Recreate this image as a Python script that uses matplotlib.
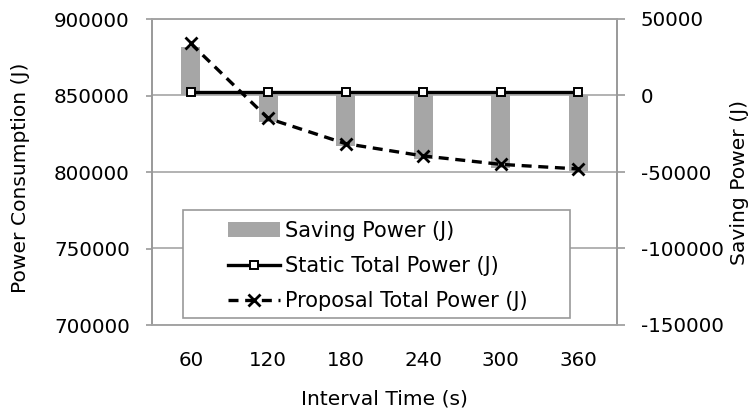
import matplotlib
matplotlib.use('Agg')
from matplotlib import pyplot as plt
from matplotlib.patches import Rectangle

# Data
intervals = ['60', '120', '180', '240', '300', '360']
static_total = [852500, 852500, 852500, 852500, 852500, 852500]
proposal_total = [884000, 835000, 818500, 810500, 805000, 802000]
saving = [31600, -17400, -33100, -41800, -47300, -49500]

plt.rcParams['font.family'] = ['DejaVu Sans']
plt.rcParams['axes.unicode_minus'] = False
grey = '#a6a6a6'
axis_grey = '#999999'

fig = plt.figure(figsize=(7.5, 4.15), dpi=100)
fig.patch.set_facecolor('white')
ax2 = fig.add_axes([152 / 750, 1 - 325 / 415, 465 / 750, 306 / 415])
ax = ax2.twinx()
ax.set_zorder(ax2.get_zorder() + 1)
ax.patch.set_visible(False)

x = list(range(len(intervals)))

# Saving bars on secondary axis (behind lines)
bars = ax2.bar(x, saving, width=0.25, color=grey, zorder=2, label='Saving Power (J)')
ax2.set_ylim(-150000, 50000)
ax2.set_yticks([-150000, -100000, -50000, 0, 50000])
ax2.yaxis.tick_right()
ax2.yaxis.set_label_position('right')
ax2.grid(axis='y', color=grey, lw=1.2, zorder=0)
ax2.set_axisbelow(True)

# Totals on primary axis
l1, = ax.plot(x, static_total, color='black', lw=2.4, marker='s', ms=6,
              mfc='white', mec='black', mew=1.4, label='Static Total Power (J)')
l2, = ax.plot(x, proposal_total, color='black', lw=2.4, ls=(0, (3, 2)), marker='x',
              ms=8, mew=2, label='Proposal Total Power (J)')
ax.set_ylim(700000, 900000)
ax.set_yticks([700000, 750000, 800000, 850000, 900000])
ax.yaxis.tick_left()
ax.yaxis.set_label_position('left')

ax2.set_xlim(-0.5, 5.5)
ax2.set_xticks(x)
ax2.set_xticklabels(intervals)

for a in (ax, ax2):
    for s in a.spines.values():
        s.set_color(axis_grey)
        s.set_linewidth(1.2)
ax.spines['top'].set_color(grey)
ax.spines['bottom'].set_color(grey)

ax.tick_params(axis='y', which='major', labelsize=14.3, length=4, width=1.2,
               color=axis_grey, pad=12, direction='out')
ax2.tick_params(axis='y', which='major', labelsize=14.3, length=6, width=1.2,
                color=axis_grey, pad=11, direction='out')
ax2.tick_params(axis='x', labelsize=14.3, length=0, pad=19)
ax.tick_params(axis='x', length=0, labelbottom=False)

ax.set_ylabel('Power Consumption (J)', fontsize=14.6)
ax.yaxis.set_label_coords(-0.262, 0.48)
ax2.set_ylabel('Saving Power (J)', fontsize=14.6)
ax2.yaxis.set_label_coords(1.243, 0.465)
ax2.set_xlabel('Interval Time (s)', fontsize=14.6)
ax2.xaxis.set_label_coords(0.5, -0.21)

# Legend box
box = Rectangle((183 / 750, 1 - 318 / 415), 387 / 750, 108 / 415,
                transform=fig.transFigure, facecolor='white', edgecolor=axis_grey,
                lw=1.2, zorder=5)
fig.patches.append(box)
leg = fig.legend([bars, l1, l2],
                 ['Saving Power (J)', 'Static Total Power (J)', 'Proposal Total Power (J)'],
                 loc='upper left', bbox_to_anchor=(228 / 750, 1 - 221 / 415),
                 frameon=False, fontsize=15, borderpad=0, borderaxespad=0,
                 handlelength=2.5, handletextpad=0.25, labelspacing=0.72)
leg.set_zorder(6)

fig.savefig('out.png', dpi=100, facecolor='white')
